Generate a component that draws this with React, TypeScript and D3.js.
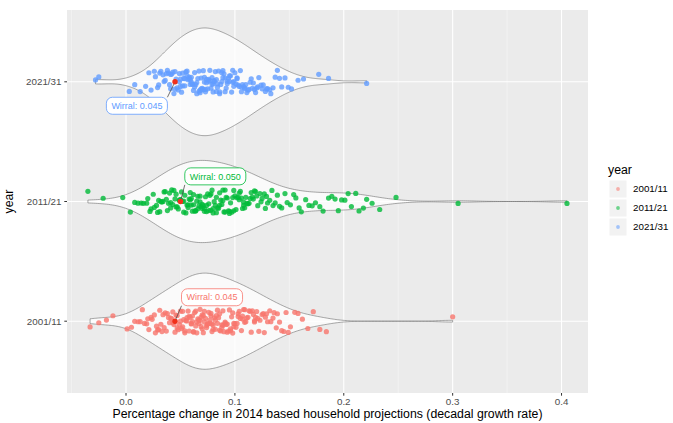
import { useEffect, useRef } from "react"
import * as d3 from "d3"

// Categories and colours (ggplot hue defaults)
const years = ["2001/11", "2011/21", "2021/31"]
const yearColours = ["#F8766D", "#00BA38", "#619CFF"]

// Decadal growth rate per local authority
const growth2001 = [
  -.033, -.025, -.018, -.012, .001, .005, .008, .011, .013, .015, .017, .019,
  .020, .021, .023, .024, .026, .027, .028, .029,
  .030, .031, .032, .033, .034, .035, .036, .037, .038, .039,
  .040, .041, .042, .043, .043, .044, .045, .046, .047, .047, .048, .049,
  .050, .050, .051, .052, .052, .053, .054, .054, .055, .056, .056, .057, .058, .058, .059,
  .060, .060, .061, .061, .062, .062, .063, .064, .064, .065, .065, .066, .067, .067, .068, .068, .069, .069,
  .070, .070, .071, .071, .072, .072, .073, .074, .074, .075, .075, .076, .077, .077, .078, .078, .079, .079,
  .080, .080, .081, .082, .082, .083, .084, .084, .085, .086, .086, .087, .088, .088, .089, .089,
  .090, .091, .091, .092, .093, .093, .094, .095, .096, .096, .097, .098, .098, .099, .099,
  .100, .101, .102, .103, .103, .104, .105, .106, .107, .107, .108, .109, .109,
  .110, .111, .112, .113, .114, .115, .116, .117, .118, .118, .119,
  .120, .121, .122, .123, .125, .126, .127, .128, .129,
  .130, .132, .133, .135, .136, .138, .139,
  .141, .143, .145, .147, .149, .151, .155, .158, .162, .167, .172, .178, .184, .300,
]

const growth2011 = [
  -.035, -.021, -.003, .004, .008, .011, .014, .016, .019,
  .020, .022, .023, .025, .026, .028, .029,
  .030, .031, .032, .033, .034, .035, .036, .037, .038, .039,
  .040, .041, .041, .042, .043, .044, .045, .046, .046, .047, .048, .049, .049,
  .050, .050, .051, .052, .053, .053, .054, .055, .056, .057, .057, .058, .059, .059,
  .060, .060, .061, .062, .062, .063, .064, .064, .065, .066, .066, .067, .068, .068, .069,
  .070, .070, .071, .072, .072, .073, .074, .074, .075, .076, .076, .077, .078, .078, .079,
  .080, .080, .081, .082, .083, .083, .084, .085, .086, .086, .087, .088, .089, .089,
  .090, .091, .091, .092, .093, .094, .095, .095, .096, .097, .098, .099, .099,
  .100, .101, .102, .103, .104, .104, .105, .106, .107, .108, .108, .109,
  .110, .111, .112, .113, .114, .115, .116, .117, .118, .119,
  .120, .121, .123, .124, .125, .127, .128, .129,
  .130, .132, .134, .135, .137, .139, .141, .143, .146, .148,
  .151, .154, .156, .159, .161, .165, .168, .171, .174, .178,
  .181, .186, .189, .192, .195, .198, .201, .204, .207, .211, .214, .218,
  .221, .226, .233, .248, .305, .405,
]

const growth2021 = [
  -.028, -.025, .003, .008, .013, .018, .021, .023, .026, .027, .029,
  .030, .031, .032, .034, .035, .036, .037, .038, .039,
  .040, .041, .041, .042, .043, .044, .045, .045, .046, .047, .048, .049, .049,
  .050, .050, .051, .052, .052, .053, .054, .054, .055, .056, .056, .057, .058, .058, .059, .059,
  .060, .060, .061, .061, .062, .063, .063, .064, .065, .065, .066, .067, .067, .068, .068, .069, .069,
  .070, .070, .071, .071, .072, .072, .073, .073, .074, .074, .075, .076, .076, .077, .077, .078, .079, .079,
  .080, .080, .081, .081, .082, .083, .083, .084, .084, .085, .086, .086, .087, .088, .088, .089, .089,
  .090, .091, .091, .092, .093, .093, .094, .095, .095, .096, .097, .098, .098, .099, .099,
  .100, .101, .102, .102, .103, .104, .105, .106, .106, .107, .108, .109, .109,
  .110, .111, .112, .113, .114, .115, .116, .117, .118, .119,
  .120, .121, .122, .124, .125, .126, .128, .129,
  .130, .132, .133, .135, .137, .139,
  .141, .143, .146, .149, .152, .158, .163, .177, .186, .221,
]

// Wirral, highlighted in each year
const wirral = [0.045, 0.050, 0.045]

// Axis ticks
const xTicks = [0, 0.1, 0.2, 0.3, 0.4]
const xMinorTicks = [-0.05, 0.05, 0.15, 0.25, 0.35]

// label offset from the Wirral point: [growth units, category units]
const labelNudge = [[0.034, 0.2], [0.032, 0.21], [-0.035, -0.2]]

const W = 673
const H = 423
const margin = { top: 10, right: 85, bottom: 30, left: 67 }
const font = "'Liberation Sans', Arial, Helvetica, sans-serif"

// bw.nrd0 like R
const bandwidth = (v: number[]) => {
  const sd = d3.deviation(v) ?? 0
  const iqr = ((d3.quantile(v, 0.75) ?? 0) - (d3.quantile(v, 0.25) ?? 0)) / 1.34
  return 0.9 * Math.min(sd, iqr) * Math.pow(v.length, -0.2)
}

const kde = (v: number[], steps = 256) => {
  const h = bandwidth(v)
  const [lo, hi] = d3.extent(v) as [number, number]
  const grid = d3.range(steps).map(i => lo + (hi - lo) * i / (steps - 1))
  return grid.map(x => [
    x,
    d3.mean(v, d => Math.exp(-0.5 * ((x - d) / h) ** 2) / (h * Math.sqrt(2 * Math.PI))) ?? 0,
  ] as [number, number])
}

// fixed jitter so every run looks the same
const jitter = (i: number, g: number) => {
  const s = Math.sin((i + 1) * 12.9898 + (g + 1) * 78.233) * 43758.5453
  return (s - Math.floor(s)) * 2 - 1
}

export default function App() {
  const svgRef = useRef<SVGSVGElement>(null)

  useEffect(() => {
    const svg = d3.select(svgRef.current)
    svg.selectAll("*").remove()

    const groups = [growth2001, growth2011, growth2021]
    const x0 = margin.left, x1 = W - margin.right
    const y0 = margin.top, y1 = H - margin.bottom

    const x = d3.scaleLinear([-0.0542, 0.4243], [x0, x1])
    const y = d3.scalePoint<string>([...years].reverse(), [y0, y1]).padding(0.6)
    const step = y.step()

    // Panel
    svg.append("rect")
      .attr("x", x0).attr("y", y0)
      .attr("width", x1 - x0).attr("height", y1 - y0)
      .attr("fill", "#EBEBEB")

    svg.selectAll(".minor")
      .data(xMinorTicks.filter(t => x(t) > x0 && x(t) < x1))
      .join("line")
      .attr("x1", d => x(d)).attr("x2", d => x(d))
      .attr("y1", y0).attr("y2", y1)
      .attr("stroke", "#F6F6F6").attr("stroke-width", 0.6)

    svg.selectAll(".major-x")
      .data(xTicks)
      .join("line")
      .attr("x1", d => x(d)).attr("x2", d => x(d))
      .attr("y1", y0).attr("y2", y1)
      .attr("stroke", "#FFFFFF").attr("stroke-width", 1.1)

    svg.selectAll(".major-y")
      .data(years)
      .join("line")
      .attr("x1", x0).attr("x2", x1)
      .attr("y1", d => y(d)!).attr("y2", d => y(d)!)
      .attr("stroke", "#FFFFFF").attr("stroke-width", 1.1)

    // Violins, area scaled against the widest one
    const densities = groups.map(g => kde(g))
    const maxDensity = d3.max(densities, d => d3.max(d, p => p[1])) ?? 1
    const halfWidth = 0.45 * step

    densities.forEach((dens, gi) => {
      const cy = y(years[gi])!
      const w = d3.scaleLinear([0, maxDensity], [0, halfWidth])
      svg.append("path")
        .datum(dens)
        .attr("d", d3.area<[number, number]>()
          .x(d => x(d[0]))
          .y0(d => cy - w(d[1]))
          .y1(d => cy + w(d[1])))
        .attr("fill", "#FFFFFF")
        .attr("fill-opacity", 0.75)
        .attr("stroke", "#6E6E6E")
        .attr("stroke-width", 0.6)
    })

    // Jittered points
    groups.forEach((g, gi) => {
      const cy = y(years[gi])!
      svg.append("g")
        .selectAll("circle")
        .data(g)
        .join("circle")
        .attr("cx", d => x(d))
        .attr("cy", (_, i) => cy + jitter(i, gi) * 0.1 * step)
        .attr("r", 2.6)
        .attr("fill", yearColours[gi])
        .attr("fill-opacity", 0.8)
    })

    // Wirral points and labels
    wirral.forEach((v, gi) => {
      const px = x(v)
      const py = y(years[gi])!
      svg.append("circle")
        .attr("cx", px).attr("cy", py).attr("r", 2.7)
        .attr("fill", "#F0301A")

      const lx = x(v + labelNudge[gi][0])
      const ly = py - labelNudge[gi][1] * step
      const text = `Wirral: ${v.toFixed(3)}`
      const t = svg.append("text")
        .attr("x", lx).attr("y", ly)
        .attr("dy", "0.35em")
        .attr("text-anchor", "middle")
        .attr("font-family", font)
        .attr("font-size", 9)
        .attr("fill", yearColours[gi])
        .text(text)
      const bb = (t.node() as SVGTextElement).getBBox()
      const bx0 = bb.x - 5, bx1 = bb.x + bb.width + 5
      const by0 = ly - 8.5, by1 = ly + 8.5

      // segment from nearest box edge to the point
      const sx = Math.max(bx0, Math.min(bx1, px))
      const sy = Math.max(by0, Math.min(by1, py))
      const len = Math.hypot(px - sx, py - sy)
      const ex = px - (px - sx) / len * 2.5
      const ey = py - (py - sy) / len * 2.5
      svg.insert("line", "text:last-of-type")
        .attr("x1", sx).attr("y1", sy).attr("x2", ex).attr("y2", ey)
        .attr("stroke", "#4D4D4D").attr("stroke-width", 0.8)

      svg.insert("rect", "text:last-of-type")
        .attr("x", bx0).attr("y", by0)
        .attr("width", bx1 - bx0).attr("height", by1 - by0)
        .attr("rx", 6)
        .attr("fill", "#FFFFFF")
        .attr("stroke", yearColours[gi])
        .attr("stroke-width", 0.8)
      t.raise()
    })

    // X axis
    const xAxis = svg.append("g")
    xAxis.selectAll("line")
      .data(xTicks)
      .join("line")
      .attr("x1", d => x(d)).attr("x2", d => x(d))
      .attr("y1", y1).attr("y2", y1 + 2.7)
      .attr("stroke", "#333333").attr("stroke-width", 1)
    xAxis.selectAll("text")
      .data(xTicks)
      .join("text")
      .attr("x", d => x(d)).attr("y", y1 + 12)
      .attr("text-anchor", "middle")
      .attr("font-family", font).attr("font-size", 9.8)
      .attr("fill", "#4D4D4D")
      .text(d => d3.format(".1f")(d))

    svg.append("text")
      .attr("x", (x0 + x1) / 2).attr("y", H - 5)
      .attr("text-anchor", "middle")
      .attr("font-family", font).attr("font-size", 12.3)
      .attr("fill", "#000000")
      .text("Percentage change in 2014 based household projections (decadal growth rate)")

    // Y axis
    const yAxis = svg.append("g")
    yAxis.selectAll("line")
      .data(years)
      .join("line")
      .attr("x1", x0 - 2.7).attr("x2", x0)
      .attr("y1", d => y(d)!).attr("y2", d => y(d)!)
      .attr("stroke", "#333333").attr("stroke-width", 1)
    yAxis.selectAll("text")
      .data(years)
      .join("text")
      .attr("x", x0 - 5.5).attr("y", d => y(d)!)
      .attr("dy", "0.35em")
      .attr("text-anchor", "end")
      .attr("font-family", font).attr("font-size", 9.8)
      .attr("fill", "#4D4D4D")
      .text(d => d)

    svg.append("text")
      .attr("transform", `translate(13,${(y0 + y1) / 2}) rotate(-90)`)
      .attr("text-anchor", "middle")
      .attr("font-family", font).attr("font-size", 12.3)
      .attr("fill", "#000000")
      .text("year")

    // Legend
    const legend = svg.append("g").attr("transform", "translate(608,0)")
    legend.append("text")
      .attr("x", 0).attr("y", 174)
      .attr("font-family", font).attr("font-size", 12.3)
      .text("year")
    const keys = legend.selectAll("g")
      .data(years)
      .join("g")
      .attr("transform", (_, i) => `translate(0,${180 + i * 19})`)
    keys.append("rect")
      .attr("x", 1.5).attr("y", 0.5)
      .attr("width", 17).attr("height", 17)
      .attr("fill", "#F2F2F2")
    keys.append("circle")
      .attr("cx", 10).attr("cy", 9).attr("r", 1.9)
      .attr("fill", (_, i) => yearColours[i])
      .attr("fill-opacity", 0.55)
    keys.append("text")
      .attr("x", 25).attr("y", 9)
      .attr("dy", "0.35em")
      .attr("font-family", font).attr("font-size", 9.8)
      .attr("fill", "#000000")
      .text(d => d)
  }, [])

  return (
    <svg
      ref={svgRef}
      width={W}
      height={H}
      style={{ position: "absolute", left: 0, top: 0, background: "#FFFFFF", display: "block" }}
    />
  )
}
